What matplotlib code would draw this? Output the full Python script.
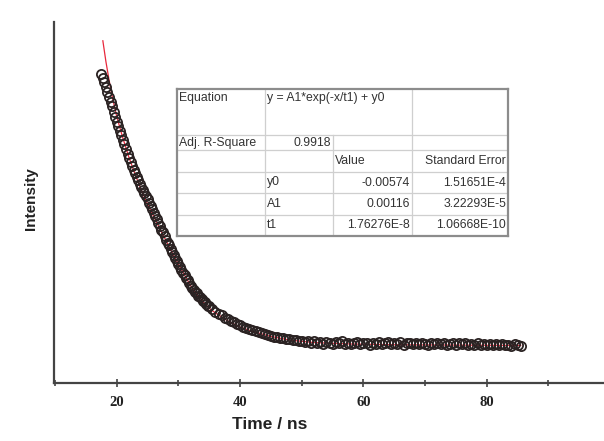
"""Fluorescence decay with single-exponential fit and Origin-style result table."""

import numpy as np
import matplotlib.pyplot as plt
from matplotlib.ticker import MultipleLocator

# measured decay, steep part sampled every 0.25 ns (17.5 .. 35.0 ns)
t_fast = np.arange(17.5, 35.01, 0.25)
i_fast = [
    0.856, 0.844, 0.834, 0.820, 0.806, 0.793, 0.778, 0.766, 0.752, 0.738,
    0.724, 0.711, 0.698, 0.686, 0.673, 0.661, 0.649, 0.635, 0.624, 0.612,
    0.602, 0.591, 0.583, 0.571, 0.563, 0.552, 0.544, 0.534, 0.527, 0.517,
    0.511, 0.500, 0.491, 0.481, 0.472, 0.463, 0.453, 0.443, 0.434, 0.424,
    0.417, 0.406, 0.397, 0.389, 0.381, 0.371, 0.364, 0.355, 0.347, 0.338,
    0.331, 0.322, 0.314, 0.305, 0.298, 0.291, 0.284, 0.276, 0.270, 0.264,
    0.259, 0.253, 0.248, 0.242, 0.237, 0.232, 0.228, 0.223, 0.220, 0.214,
    0.212,
]
# tail sampled every 0.5 ns (35.5 .. 85.5 ns)
t_slow = np.arange(35.5, 85.51, 0.5)
i_slow = [
    0.204, 0.198, 0.192, 0.188, 0.181, 0.177, 0.171, 0.168, 0.163, 0.160,
    0.156, 0.153, 0.149, 0.148, 0.143, 0.141, 0.138, 0.137, 0.132, 0.131,
    0.127, 0.128, 0.124, 0.125, 0.121, 0.122, 0.118, 0.120, 0.115, 0.117,
    0.114, 0.116, 0.112, 0.115, 0.110, 0.113, 0.109, 0.114, 0.111, 0.108,
    0.113, 0.110, 0.115, 0.109, 0.112, 0.107, 0.111, 0.114, 0.108, 0.112,
    0.110, 0.106, 0.112, 0.109, 0.113, 0.108, 0.110, 0.114, 0.107, 0.111,
    0.109, 0.113, 0.106, 0.110, 0.112, 0.108, 0.111, 0.107, 0.112, 0.109,
    0.106, 0.111, 0.108, 0.112, 0.107, 0.110, 0.105, 0.109, 0.112, 0.106,
    0.110, 0.107, 0.111, 0.105, 0.109, 0.106, 0.110, 0.104, 0.108, 0.106,
    0.109, 0.104, 0.107, 0.105, 0.108, 0.104, 0.106, 0.103, 0.107, 0.104,
    0.103,
]

# fitted curve as drawn
t_fit = [17.75, 18.25, 18.75, 19.25, 20.0, 21.0, 22.0, 23.0, 24.0, 25.0,
         26.0, 27.0, 28.0, 29.0, 30.0, 31.0, 32.0, 33.0, 34.0, 35.0, 36.0,
         38.0, 40.0, 42.0, 45.0, 48.0, 52.0, 58.0, 65.0, 75.0, 85.5]
i_fit = [0.948, 0.890, 0.840, 0.795, 0.738, 0.678, 0.624, 0.577, 0.534,
         0.496, 0.461, 0.427, 0.394, 0.361, 0.329, 0.299, 0.269, 0.245,
         0.225, 0.207, 0.194, 0.172, 0.155, 0.143, 0.129, 0.119, 0.112,
         0.108, 0.106, 0.105, 0.104]

x_ticks = [20, 40, 60, 80]

# fit result table
table_rows = [
    ["Equation", "y = A1*exp(-x/t1) + y0", "", ""],
    ["Adj. R-Square", "0.9918", "", ""],
    ["", "", "Value", "Standard Error"],
    ["", "y0", "-0.00574", "1.51651E-4"],
    ["", "A1", "0.00116", "3.22293E-5"],
    ["", "t1", "1.76276E-8", "1.06668E-10"],
]

t_data = np.concatenate([t_fast, t_slow])
i_data = np.array(i_fast + i_slow)

fig = plt.figure(figsize=(6.04, 4.41), dpi=100)
ax = fig.add_axes([54 / 604, 58 / 441, 550 / 604, 361 / 441])

ax.plot(t_fit, i_fit, color="#e8283c", lw=0.9, zorder=2)
ax.plot(t_data, i_data, ls="none", marker="o", ms=6.6, mfc="none",
        mec="#2a2222", mew=1.3, zorder=3)

ax.set_xlim(9.83, 99.0)
ax.set_ylim(0, 1)
ax.set_xticks(x_ticks)
ax.xaxis.set_minor_locator(MultipleLocator(10))
ax.set_yticks([])
for side in ("top", "right"):
    ax.spines[side].set_visible(False)
for side in ("left", "bottom"):
    ax.spines[side].set_color("#444444")
    ax.spines[side].set_linewidth(1.6)
ax.tick_params(axis="x", which="both", direction="inout", length=6,
               width=1.2, color="#444444", pad=6)
ax.tick_params(axis="x", which="minor", length=5)
for lbl in ax.get_xticklabels():
    lbl.set_fontfamily("Liberation Serif")
    lbl.set_fontweight("bold")
    lbl.set_fontsize(10.5)
    lbl.set_color("#222222")

ax.set_xlabel("Time / ns", family="Liberation Sans", weight="bold",
              fontsize=12.5, color="#222222", va="top")
ax.xaxis.set_label_coords(0.393, -0.095)
ax.set_ylabel("Intensity", family="Liberation Sans", weight="bold",
              fontsize=11, color="#222222")
ax.yaxis.set_label_coords(-0.029, 0.512)

# table drawn in its own pixel-space axes
tab = fig.add_axes([177 / 604, (441 - 236) / 441, 331 / 604, 147 / 441])
tab.set_xlim(0, 331)
tab.set_ylim(147, 0)
tab.set_xticks([])
tab.set_yticks([])
for sp in tab.spines.values():
    sp.set_color("#8c8c8c")
    sp.set_linewidth(1.6)

col_edges = [0, 88, 156, 235, 331]
row_edges = [0, 46, 61, 83, 104, 126, 147]
grid_c = "#cfcfcf"
for y in row_edges[1:-1]:
    tab.plot([0, 331], [y, y], color=grid_c, lw=0.9)
tab.plot([col_edges[1]] * 2, [0, 147], color=grid_c, lw=0.9)
tab.plot([col_edges[2]] * 2, [46, 147], color=grid_c, lw=0.9)
tab.plot([col_edges[3]] * 2, [0, 147], color=grid_c, lw=0.9)

txt = dict(family="Liberation Sans", fontsize=8.8, color="#333333",
           va="center")
for r, row in enumerate(table_rows):
    yc = 9 if r == 0 else (row_edges[r] + row_edges[r + 1]) / 2
    for c, s in enumerate(row):
        if not s:
            continue
        if c == 0 or (r == 0 and c == 1) or (c == 1 and r >= 3) or (r == 2 and c == 2):
            tab.text(col_edges[c] + 2, yc, s, ha="left", **txt)
        else:
            tab.text(col_edges[c + 1] - 2, yc, s, ha="right", **txt)

fig.savefig("out.png", dpi=100)
